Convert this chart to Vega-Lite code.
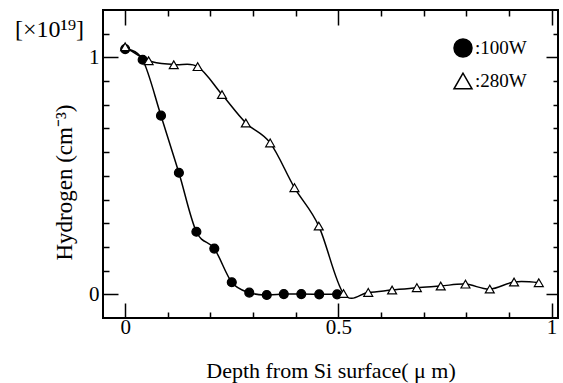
{
  "$schema": "https://vega.github.io/schema/vega-lite/v6.json",
  "width": 455,
  "height": 308,
  "autosize": "none",
  "padding": {"left": 103, "top": 10, "right": 5, "bottom": 65},
  "background": "white",
  "title": {
    "text": "[×10¹⁹]",
    "anchor": "start",
    "frame": "group",
    "orient": "top",
    "offset": 0,
    "dx": -88,
    "dy": 33,
    "font": "Liberation Serif",
    "fontSize": 24,
    "fontWeight": "normal",
    "color": "black"
  },
  "data": {
    "values": [
      {"depth": 0.0, "hydrogen": 1.035, "power": "100W"},
      {"depth": 0.041, "hydrogen": 0.99, "power": "100W"},
      {"depth": 0.084, "hydrogen": 0.754, "power": "100W"},
      {"depth": 0.126, "hydrogen": 0.513, "power": "100W"},
      {"depth": 0.167, "hydrogen": 0.264, "power": "100W"},
      {"depth": 0.209, "hydrogen": 0.193, "power": "100W"},
      {"depth": 0.25, "hydrogen": 0.051, "power": "100W"},
      {"depth": 0.291, "hydrogen": 0.007, "power": "100W"},
      {"depth": 0.332, "hydrogen": -0.003, "power": "100W"},
      {"depth": 0.372, "hydrogen": 0.001, "power": "100W"},
      {"depth": 0.413, "hydrogen": 0.001, "power": "100W"},
      {"depth": 0.455, "hydrogen": 0.0, "power": "100W"},
      {"depth": 0.497, "hydrogen": 0.0, "power": "100W"},
      {"depth": 0.0, "hydrogen": 1.045, "power": "280W"},
      {"depth": 0.055, "hydrogen": 0.986, "power": "280W"},
      {"depth": 0.114, "hydrogen": 0.969, "power": "280W"},
      {"depth": 0.17, "hydrogen": 0.961, "power": "280W"},
      {"depth": 0.227, "hydrogen": 0.843, "power": "280W"},
      {"depth": 0.283, "hydrogen": 0.723, "power": "280W"},
      {"depth": 0.34, "hydrogen": 0.639, "power": "280W"},
      {"depth": 0.397, "hydrogen": 0.45, "power": "280W"},
      {"depth": 0.454, "hydrogen": 0.288, "power": "280W"},
      {"depth": 0.512, "hydrogen": 0.003, "power": "280W"},
      {"depth": 0.57, "hydrogen": 0.008, "power": "280W"},
      {"depth": 0.626, "hydrogen": 0.018, "power": "280W"},
      {"depth": 0.684, "hydrogen": 0.028, "power": "280W"},
      {"depth": 0.74, "hydrogen": 0.035, "power": "280W"},
      {"depth": 0.798, "hydrogen": 0.043, "power": "280W"},
      {"depth": 0.855, "hydrogen": 0.022, "power": "280W"},
      {"depth": 0.912, "hydrogen": 0.052, "power": "280W"},
      {"depth": 0.97, "hydrogen": 0.049, "power": "280W"}
    ]
  },
  "layer": [
    {
      "mark": {"type": "line", "interpolate": "cardinal", "color": "black", "strokeWidth": 1.5},
      "encoding": {
        "x": {
          "field": "depth", "type": "quantitative",
          "scale": {"domain": [-0.052, 1.015], "nice": false, "zero": false},
          "axis": {
            "orient": "bottom",
            "title": "Depth from Si surface( μ m)",
            "titlePadding": 23,
            "values": [0, 0.1, 0.2, 0.3, 0.4, 0.5, 0.6, 0.7, 0.8, 0.9, 1],
            "labelExpr": "datum.value === 0 ? '0' : datum.value === 0.5 ? '0.5' : datum.value === 1 ? '1' : ''",
            "tickSize": {"condition": {"test": "datum.value === 0 || datum.value === 0.5 || datum.value === 1", "value": -15}, "value": -6},
            "labelPadding": 13,
            "labelFontSize": 21,
            "titleFontSize": 22
          }
        },
        "y": {
          "field": "hydrogen", "type": "quantitative",
          "scale": {"domain": [-0.1, 1.2], "nice": false, "zero": false},
          "axis": {
            "orient": "left",
            "title": "Hydrogen (cm⁻³)",
            "titlePadding": 12,
            "titleY": 172,
            "values": [0, 0.1, 0.2, 0.3, 0.4, 0.5, 0.6, 0.7, 0.8, 0.9, 1, 1.1],
            "labelExpr": "datum.value === 0 ? '0' : datum.value === 1 ? '1' : ''",
            "tickSize": {"condition": {"test": "datum.value === 0 || datum.value === 1", "value": -15}, "value": -6},
            "labelPadding": 19,
            "labelFontSize": 21,
            "titleFontSize": 23
          }
        },
        "detail": {"field": "power"}
      }
    },
    {
      "mark": {"type": "point", "filled": false, "stroke": "black", "strokeWidth": 1.2, "opacity": 1, "size": 80},
      "encoding": {
        "x": {
          "field": "depth", "type": "quantitative",
          "axis": {
            "orient": "top", "title": null, "labels": false,
            "values": [0, 0.1, 0.2, 0.3, 0.4, 0.5, 0.6, 0.7, 0.8, 0.9, 1],
            "tickSize": {"condition": {"test": "datum.value === 0 || datum.value === 0.5 || datum.value === 1", "value": -15}, "value": -6}
          }
        },
        "y": {
          "field": "hydrogen", "type": "quantitative",
          "axis": {
            "orient": "right", "title": null, "labels": false,
            "values": [0, 0.1, 0.2, 0.3, 0.4, 0.5, 0.6, 0.7, 0.8, 0.9, 1, 1.1],
            "tickSize": {"condition": {"test": "datum.value === 0 || datum.value === 1", "value": -12}, "value": -5}
          }
        },
        "shape": {
          "field": "power", "type": "nominal",
          "scale": {"domain": ["100W", "280W"], "range": ["circle", "triangle-up"]},
          "legend": {
            "title": null,
            "orient": "none",
            "legendX": 350,
            "legendY": 28,
            "symbolSize": 324,
            "labelFont": "Liberation Serif",
            "labelFontSize": 19,
            "labelColor": "black",
            "labelExpr": "':' + datum.label",
            "labelOffset": 2,
            "rowPadding": 10,
            "encode": {
              "symbols": {
                "update": {
                  "stroke": {"value": "black"},
                  "strokeWidth": {"value": 1.5}
                }
              }
            }
          }
        },
        "fill": {
          "field": "power", "type": "nominal",
          "scale": {"domain": ["100W", "280W"], "range": ["black", "white"]}
        }
      }
    }
  ],
  "resolve": {"axis": {"x": "independent", "y": "independent"}},
  "config": {
    "view": {"stroke": "black", "strokeWidth": 2},
    "axis": {
      "domain": false,
      "grid": false,
      "tickColor": "black",
      "tickWidth": 1.5,
      "labelFont": "Liberation Serif",
      "labelFontSize": 20,
      "labelColor": "black",
      "titleFont": "Liberation Serif",
      "titleFontSize": 20,
      "titleFontWeight": "normal",
      "titleColor": "black"
    }
  }
}
